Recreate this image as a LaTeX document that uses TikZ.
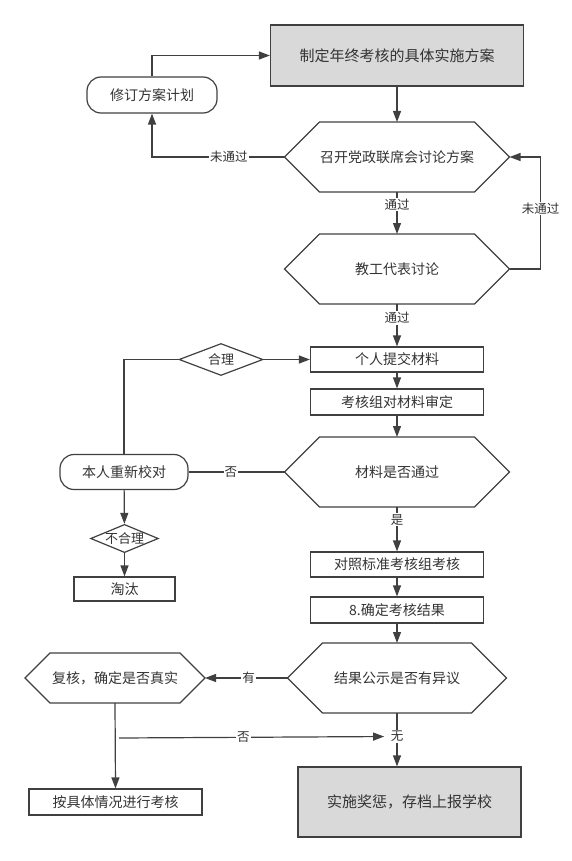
\documentclass[tikz,border=0pt]{standalone}
\usepackage{fontspec}
\setmainfont{Noto Sans CJK SC}
\usepackage{xcolor}
\usetikzlibrary{arrows.meta, shapes.geometric, calc, positioning}

\definecolor{edge}{HTML}{404040}
\definecolor{boxgray}{HTML}{D9D9D9}
\definecolor{txt}{HTML}{333333}

\tikzset{
  link/.style={draw=edge, line width=1.2pt},
  flow/.style={link, -{Triangle[length=11pt, width=8pt]}},
  proc/.style={link, rectangle, minimum width=173pt, minimum height=25pt, inner sep=0pt, text=txt, font=\fontsize{14}{16}\selectfont},
  grayproc/.style={proc, fill=boxgray, font=\fontsize{15}{18}\selectfont},
  roundproc/.style={proc, rounded corners=14pt},
  hexa/.style={rectangle, outer sep=0pt, inner sep=0pt, minimum height=70pt, text=txt, font=\fontsize{14}{16}\selectfont},
  choice/.style={link, diamond, inner sep=0pt, text=txt, font=\fontsize{13}{15}\selectfont},
  lbl/.style={fill=white, inner sep=1pt, text=txt, font=\fontsize{12.5}{14}\selectfont},
}

\begin{document}
\begin{tikzpicture}[x=1pt, y=-1pt]
  \useasboundingbox (0,0) rectangle (572,861);

  % plan and discussion
  \node[grayproc, minimum width=253pt, minimum height=61pt] (plan) at (397,55.5) {制定年终考核的具体实施方案};
  \node[roundproc, minimum width=130pt, minimum height=36pt] (revise) at (152,95) {修订方案计划};
  \node[hexa, minimum width=225pt] (party) at (397,157) {召开党政联席会讨论方案};
  \node[hexa, minimum width=225pt] (staff) at (397,269) {教工代表讨论};

  % materials
  \node[proc] (submit) at (397,359.5) {个人提交材料};
  \node[proc, minimum height=26pt] (audit) at (397,402) {考核组对材料审定};
  \node[hexa, minimum width=225pt] (pass) at (397,472) {材料是否通过};
  \node[roundproc, minimum width=128pt, minimum height=35pt] (check) at (124,472) {本人重新校对};
  \node[choice, minimum width=84pt, minimum height=32pt, aspect=2.6] (fair) at (221,359.5) {合理};
  \node[choice, minimum width=65pt, minimum height=27pt, aspect=2.4] (unfair) at (124.5,538.5) {不合理};
  \node[proc, minimum width=101pt, minimum height=24pt] (drop) at (124.5,589) {淘汰};

  % results
  \node[proc] (assess) at (397,564.5) {对照标准考核组考核};
  \node[proc, minimum height=26pt] (result) at (397,610) {8.确定考核结果};
  \node[hexa, minimum width=219pt] (notice) at (397,678) {结果公示是否有异议};
  \node[hexa, minimum width=180pt, minimum height=50pt] (recheck) at (115,678) {复核，确定是否真实};
  \node[proc, minimum height=26pt] (special) at (115.5,802) {按具体情况进行考核};
  \node[grayproc, minimum width=223pt, minimum height=70pt] (final) at (409.5,802) {实施奖惩，存档上报学校};

  \foreach \h/\d in {party/35, staff/35, pass/35, notice/35, recheck/25}
    \draw[link] (\h.west) -- ([xshift=\d pt]\h.north west) -- ([xshift=-\d pt]\h.north east) -- (\h.east)
      -- ([xshift=-\d pt]\h.south east) -- ([xshift=\d pt]\h.south west) -- cycle;

  % top loop
  \draw[flow] (plan.south) -- (party.north);
  \draw[flow] (revise.north) |- (plan.west);
  \draw[flow] (party.west) -| node[lbl, pos=0.21] {未通过} (revise.south);
  \draw[flow] (party.south) -- node[lbl, pos=0.3] {通过} (staff.north);
  \draw[flow] (staff.east) -- ++(31,0) |- node[lbl, pos=0.27] {未通过} (party.east);
  \draw[flow] (staff.south) -- node[lbl, pos=0.33] {通过} (submit.north);

  % materials
  \draw[flow] (submit) -- (audit);
  \draw[flow] (audit) -- (pass);
  \draw[link] (pass.west) -- node[lbl, pos=0.56] {否} (check.east);
  \draw[link] (check.north) |- (fair.west);
  \draw[flow] (fair.east) -- (submit.west);
  \draw[flow] (check) -- (unfair);
  \draw[flow] (unfair) -- (drop);
  \draw[flow] (pass.south) -- node[lbl, pos=0.29] {是} (assess.north);

  % results
  \draw[flow] (assess) -- (result);
  \draw[flow] (result) -- (notice);
  \draw[flow] (notice.west) -- node[lbl, pos=0.47] {有} (recheck.east);
  \draw[flow] (recheck.south) -- (special.north);
  \draw[flow] (notice.south) -- node[lbl, pos=0.44] (none) {无} (notice.south |- final.north);
  \coordinate (fork) at (119,738);
  \draw[flow, shorten >=5pt] (fork) -- node[lbl, pos=0.46] {否} (none.west);
\end{tikzpicture}
\end{document}
